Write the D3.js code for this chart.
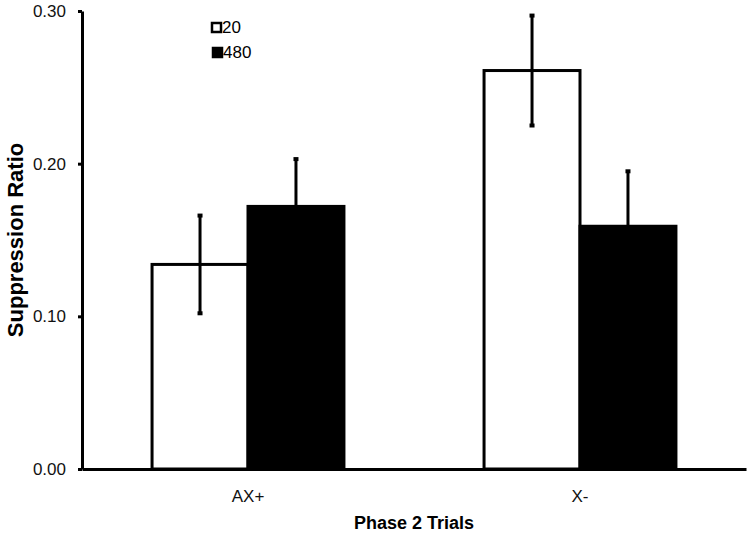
<!DOCTYPE html>
<html>
<head>
<meta charset="utf-8">
<script src="https://cdn.jsdelivr.net/npm/d3@7"></script>
<style>
  body { margin: 0; background: #fff; }
  text { font-family: "Liberation Sans", Arial, sans-serif; }
</style>
</head>
<body>
<div id="chart-container"></div>
<script>
var categories = ['AX+', 'X-']
var groups = ['20', '480']
var means20 = [0.134, 0.261]
var means480 = [0.172, 0.159]
var errs20 = [0.032, 0.036]
var errs480 = [0.031, 0.036]
var yTicks = [0, 0.1, 0.2, 0.3]

var data = []
categories.forEach(function(c, i) {
  data.push({cat: c, group: '20', value: means20[i], err: errs20[i]})
  data.push({cat: c, group: '480', value: means480[i], err: errs480[i]})
})

var margin = {top: 11, right: 5, bottom: 68, left: 82}
var width = 751 - margin.left - margin.right
var height = 537 - margin.top - margin.bottom

var xScale = d3.scaleBand()
  .domain(categories)
  .range([0, width])
  .paddingInner(0.422)
  .paddingOuter(0.211)

var xSub = d3.scaleBand()
  .domain(groups)
  .range([0, xScale.bandwidth()])

var yScale = d3.scaleLinear()
  .domain([0, 0.3])
  .range([height, 0])

var fills = {'20': '#fff', '480': '#000'}

var svg = d3.select('#chart-container')
  .append('svg')
  .attr('width', 751)
  .attr('height', 537)
  .append('g')
  .attr('transform', 'translate(' + margin.left + ', ' + margin.top + ')')

/* bars */
svg.selectAll('rect.bar')
  .data(data)
  .enter().append('rect')
  .attr('class', 'bar')
  .attr('x', d => xScale(d.cat) + xSub(d.group))
  .attr('y', d => yScale(d.value))
  .attr('width', xSub.bandwidth())
  .attr('height', d => height - yScale(d.value))
  .attr('fill', d => fills[d.group])
  .attr('stroke', '#000')
  .attr('stroke-width', 3)

/* error bars */
var cx = d => xScale(d.cat) + xSub(d.group) + xSub.bandwidth() / 2
svg.selectAll('line.err')
  .data(data)
  .enter().append('line')
  .attr('class', 'err')
  .attr('x1', cx).attr('x2', cx)
  .attr('y1', d => yScale(d.value - d.err))
  .attr('y2', d => yScale(d.value + d.err))
  .attr('stroke', '#000')
  .attr('stroke-width', 3)

svg.selectAll('g.caps')
  .data(data)
  .enter().append('g')
  .each(function(d) {
    var g = d3.select(this)
    ;[d.value - d.err, d.value + d.err].forEach(function(v) {
      g.append('rect')
        .attr('x', cx(d) - 2.5)
        .attr('y', yScale(v) - 2)
        .attr('width', 5)
        .attr('height', 4)
        .attr('fill', '#000')
    })
  })

/* y axis */
var yAxis = svg.append('g')
  .attr('class', 'axis axis--y')
  .call(d3.axisLeft(yScale).tickValues(yTicks).tickFormat(d3.format('.2f')).tickSize(4).tickSizeOuter(0))
yAxis.select('.domain').attr('stroke-width', 3)
yAxis.selectAll('.tick line').attr('stroke-width', 3)
yAxis.selectAll('.tick text')
  .attr('x', -16)
  .attr('font-size', 17)
  .attr('fill', '#111')

/* x axis */
var xAxis = svg.append('g')
  .attr('class', 'axis axis--x')
  .attr('transform', 'translate(0, ' + height + ')')
  .call(d3.axisBottom(xScale).tickSize(0).tickSizeOuter(0))
xAxis.select('.domain').attr('stroke-width', 3)
xAxis.selectAll('.tick text')
  .attr('y', 21)
  .attr('font-size', 17)
  .attr('fill', '#111')

/* axis titles */
svg.append('text')
  .attr('x', width / 2)
  .attr('y', height + 60)
  .attr('text-anchor', 'middle')
  .attr('font-size', 18)
  .attr('font-weight', 'bold')
  .text('Phase 2 Trials')

svg.append('text')
  .attr('transform', 'translate(' + (-59) + ', ' + (240 - margin.top) + ') rotate(-90)')
  .attr('text-anchor', 'middle')
  .attr('font-size', 22)
  .attr('font-weight', 'bold')
  .text('Suppression Ratio')

/* legend */
var legend = svg.append('g')
  .attr('transform', 'translate(' + (211 - margin.left) + ', ' + (22 - margin.top) + ')')
groups.forEach(function(g, i) {
  var row = legend.append('g').attr('transform', 'translate(' + (i * 1) + ', ' + (i * 25) + ')')
  row.append('rect')
    .attr('x', 1).attr('y', 1)
    .attr('width', 9).attr('height', 9)
    .attr('fill', fills[g])
    .attr('stroke', '#000')
    .attr('stroke-width', 2.5)
  row.append('text')
    .attr('x', 11)
    .attr('y', 11)
    .attr('font-size', 17)
    .text(g)
})
</script>
</body>
</html>
